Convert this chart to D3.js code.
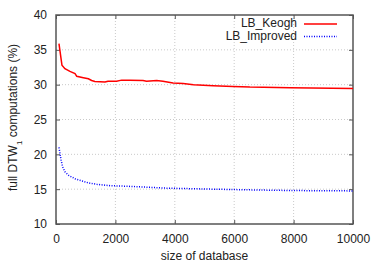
<!DOCTYPE html>
<html>
<head>
<meta charset="utf-8">
<script src="https://cdn.jsdelivr.net/npm/d3@7"></script>
<style>
  body { margin: 0; background: #fff; }
  text { font-family: "Liberation Sans", Arial, sans-serif; fill: #222; }
</style>
</head>
<body>
<div id="chart"></div>
<script>
// Data
const keoghX = [100, 200, 300, 470, 640, 700, 920, 1090, 1200, 1310, 1650, 1750, 2040, 2210, 2490, 2930, 3050, 3390, 3600, 3940, 4280, 4630, 5290, 5960, 6530, 7880, 10000];
const keoghY = [35.9, 32.8, 32.3, 31.9, 31.6, 31.2, 31.0, 30.85, 30.6, 30.47, 30.4, 30.5, 30.5, 30.65, 30.65, 30.6, 30.5, 30.6, 30.5, 30.25, 30.15, 30.0, 29.85, 29.75, 29.65, 29.55, 29.45];
const improvedX = [100, 135, 170, 225, 300, 415, 640, 865, 1090, 1370, 1820, 2490, 3700, 5290, 6530, 8000, 10000];
const improvedY = [21.0, 20.1, 19.2, 18.2, 17.5, 17.0, 16.5, 16.2, 15.9, 15.7, 15.5, 15.4, 15.15, 15.0, 14.9, 14.8, 14.75];
const xTicks = [0, 2000, 4000, 6000, 8000, 10000];
const yTicks = [10, 15, 20, 25, 30, 35, 40];
const seriesNames = ["LB_Keogh", "LB_Improved"];

// Set margin
const margin = { top: 15, right: 21, bottom: 38, left: 56 },
    width = 374 - margin.left - margin.right,
    height = 262 - margin.top - margin.bottom;

const svg = d3.select("#chart")
    .append("svg")
    .attr("width", 374)
    .attr("height", 262);

const g = svg.append("g")
    .attr("transform", `translate(${margin.left},${margin.top})`);

const x = d3.scaleLinear().domain([0, 10000]).range([0, width]);
const y = d3.scaleLinear().domain([10, 40]).range([height, 0]);

// Grid
g.append("g").selectAll("line")
    .data(xTicks.slice(1, -1))
    .join("line")
    .attr("x1", d => x(d)).attr("x2", d => x(d))
    .attr("y1", 0).attr("y2", height)
    .attr("stroke", "#bbb").attr("stroke-width", 0.8)
    .attr("stroke-dasharray", "1,2");
g.append("g").selectAll("line")
    .data(yTicks.slice(1, -1))
    .join("line")
    .attr("y1", d => y(d)).attr("y2", d => y(d))
    .attr("x1", 0).attr("x2", width)
    .attr("stroke", "#bbb").attr("stroke-width", 0.8)
    .attr("stroke-dasharray", "1,2");

// Axes (gnuplot style: ticks inward, mirrored)
const axisStyle = sel => {
    sel.select(".domain").remove();
    sel.selectAll("line").attr("stroke", "#555").attr("stroke-width", 1);
    sel.selectAll("text").style("font-size", "12px")
        .style("font-family", "Liberation Sans, Arial, sans-serif").attr("fill", "#222");
};
g.append("g")
    .attr("transform", `translate(0,${height})`)
    .call(d3.axisBottom(x).tickValues(xTicks).tickSizeInner(-4).tickSizeOuter(0).tickPadding(10).tickFormat(d3.format("d")))
    .call(axisStyle);
g.append("g")
    .call(d3.axisTop(x).tickValues(xTicks).tickSizeInner(-4).tickSizeOuter(0).tickFormat(""))
    .call(axisStyle);
g.append("g")
    .call(d3.axisLeft(y).tickValues(yTicks).tickSizeInner(-4).tickSizeOuter(0).tickPadding(9))
    .call(axisStyle);
g.append("g")
    .attr("transform", `translate(${width},0)`)
    .call(d3.axisRight(y).tickValues(yTicks).tickSizeInner(-4).tickSizeOuter(0).tickFormat(""))
    .call(axisStyle);

// Border
g.append("rect")
    .attr("width", width).attr("height", height)
    .attr("fill", "none").attr("stroke", "#555").attr("stroke-width", 1.5);

// Lines
const line = d3.line().x(d => x(d[0])).y(d => y(d[1]));
g.append("path")
    .datum(keoghX.map((d, i) => [d, keoghY[i]]))
    .attr("d", line)
    .attr("fill", "none").attr("stroke", "#ff0000").attr("stroke-width", 1.5);
g.append("path")
    .datum(improvedX.map((d, i) => [d, improvedY[i]]))
    .attr("d", line)
    .attr("fill", "none").attr("stroke", "#0000ff").attr("stroke-width", 1.5)
    .attr("stroke-dasharray", "1,1.5");

// Legend
const legend = g.append("g");
seriesNames.forEach((name, i) => {
    const ly = 9 + i * 12.5;
    legend.append("text")
        .attr("x", 241).attr("y", ly)
        .attr("text-anchor", "end").attr("dominant-baseline", "middle")
        .style("font-size", "12px")
        .text(name);
    legend.append("line")
        .attr("x1", 248).attr("x2", 281)
        .attr("y1", ly).attr("y2", ly)
        .attr("stroke", i == 0 ? "#ff0000" : "#0000ff")
        .attr("stroke-width", 1.5)
        .attr("stroke-dasharray", i == 0 ? null : "1,1.5");
});

// Axis labels
svg.append("text")
    .attr("x", margin.left + width / 2).attr("y", 260)
    .attr("text-anchor", "middle")
    .style("font-size", "12px")
    .text("size of database");

const yl = svg.append("text")
    .attr("transform", `translate(17,${margin.top + height / 2 - 2}) rotate(-90)`)
    .attr("text-anchor", "middle")
    .style("font-size", "12px");
yl.append("tspan").text("full DTW");
yl.append("tspan").attr("baseline-shift", "sub").style("font-size", "8px").text("1");
yl.append("tspan").text(" computations (%)");
</script>
</body>
</html>
